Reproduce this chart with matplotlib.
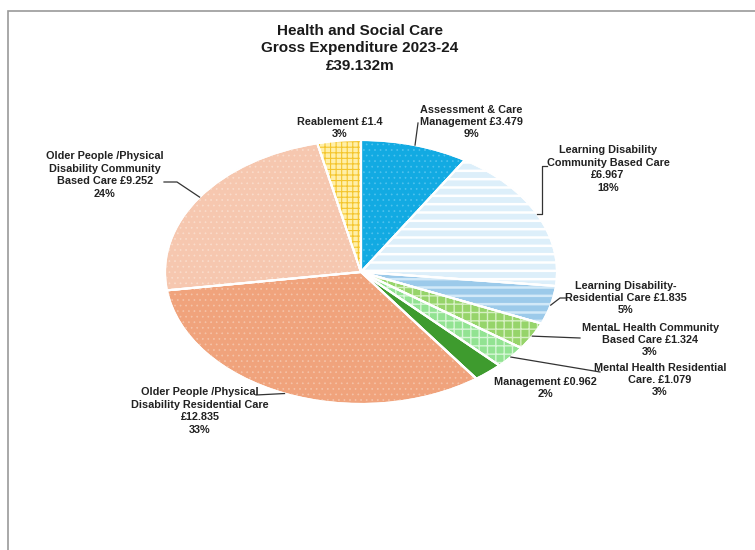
import numpy as np
import matplotlib
matplotlib.use("Agg")
import matplotlib.pyplot as plt
from matplotlib.patches import Wedge, Rectangle
from matplotlib.lines import Line2D

# ---------------- data ----------------
categories = [
    "Assessment & Care\nManagement £3.479",
    "Learning Disability\nCommunity Based Care\n£6.967",
    "Learning Disability-\nResidential Care £1.835",
    "MentaL Health Community\nBased Care £1.324",
    "Mental Health Residential\nCare. £1.079",
    "Management £0.962",
    "Older People /Physical\nDisability Residential Care\n£12.835",
    "Older People /Physical\nDisability Community\nBased Care £9.252",
    "Reablement £1.4",
]
values = [3.479, 6.967, 1.835, 1.324, 1.079, 0.962, 12.835, 9.252, 1.4]
percent_labels = ["9%", "18%", "5%", "3%", "3%", "2%", "33%", "24%", "3%"]
title_lines = ["Health and Social Care", "Gross Expenditure 2023-24", "£39.132m"]

# ---------------- styles ----------------
face_colors = ["#12AAE2", "#DDEFFA", "#9CCAEA", "#96D46A", "#92E392",
               "#3E9B2E", "#F0A37C", "#F6C7AF", "#FFEFA8"]
hatch_colors = ["#4FC2EE", "#FFFFFF", "#D2E9F8", "#D6F0C2", "#D6F6D6",
                None, "#F5C3A8", "#FADCCB", "#F4C52C"]
hatches = ["...", "--", "--", "++", "++", None, "...", "...", "+++"]
hatch_lw = [0.5, 1.8, 1.8, 1.0, 1.0, None, 0.5, 0.5, 0.8]

FONT = "Liberation Sans"
W, H = 755, 550
fig = plt.figure(figsize=(W / 100, H / 100), dpi=100)

# border of the frame
fig.add_artist(Rectangle((8 / W, -0.1), 1.2, 1 - 11 / H + 0.1, transform=fig.transFigure,
                         fill=False, edgecolor="#9a9a9a", linewidth=1.2))

# pie axes (elliptical pie)
cx, cy, rx, ry = 361, 272, 196, 132
ax = fig.add_axes([(cx - rx) / W, 1 - (cy + ry) / H, 2 * rx / W, 2 * ry / H])
wedges, _ = ax.pie(values, colors=face_colors, startangle=90, counterclock=False,
                   radius=1, wedgeprops=dict(edgecolor="white", linewidth=1.5))
ax.set_aspect("auto")
ax.set_xlim(-1, 1)
ax.set_ylim(-1, 1)
ax.axis("off")

# hatch overlays
for w, h, hc, hl in zip(wedges, hatches, hatch_colors, hatch_lw):
    if h is None:
        continue
    with plt.rc_context({"hatch.linewidth": hl}):
        ov = Wedge(w.center, w.r, w.theta1, w.theta2, facecolor="none",
                   edgecolor=hc, linewidth=0, hatch=h, zorder=w.get_zorder() + 0.1)
        ax.add_patch(ov)
# outlines on top
for w in wedges:
    ax.add_patch(Wedge(w.center, w.r, w.theta1, w.theta2, facecolor="none",
                       edgecolor="white", linewidth=1.5, zorder=w.get_zorder() + 0.2))

# title
for txt, py in zip(title_lines, [31, 48, 66]):
    fig.text(360 / W, 1 - py / H, txt, ha="center", va="center", family=FONT,
             fontsize=11, fontweight="bold", color="#1a1a1a")

# label positions (pixel centres) and leader paths (pixel points after the wedge point)
label_pos = [(471, 122), (608, 169), (626, 298), (650, 340), (660, 380),
             (545, 388), (200, 411), (105, 175), (340, 128)]
leader_paths = [
    [(418, 123)],
    [(542, None), (542, 166), (547, 166)],
    [(560, 298), (566, 298)],
    [(580, 338)],
    [(600, 372)],
    None,
    [(256, 395)],
    [(177, 182), (164, 182)],
    None,
]

fig.canvas.draw()
for w, cat, pct, (lx, ly), path in zip(wedges, categories, percent_labels,
                                        label_pos, leader_paths):
    fig.text(lx / W, 1 - ly / H, cat + "\n" + pct, ha="center", va="center",
             multialignment="center", fontsize=7.8, fontweight="bold", family=FONT,
             color="#222222", linespacing=1.3)
    if path is None:
        continue
    mid = np.deg2rad((w.theta1 + w.theta2) / 2)
    dx, dy = ax.transData.transform((np.cos(mid), np.sin(mid)))
    px0, py0 = dx, H - dy
    pts = [(px0, py0)]
    for (x, y) in path:
        pts.append((x, py0 if y is None else y))
    xs = [p[0] / W for p in pts]
    ys = [1 - p[1] / H for p in pts]
    fig.add_artist(Line2D(xs, ys, transform=fig.transFigure, color="#333333",
                          linewidth=0.9))

fig.savefig("out.png", dpi=100, facecolor="white")
